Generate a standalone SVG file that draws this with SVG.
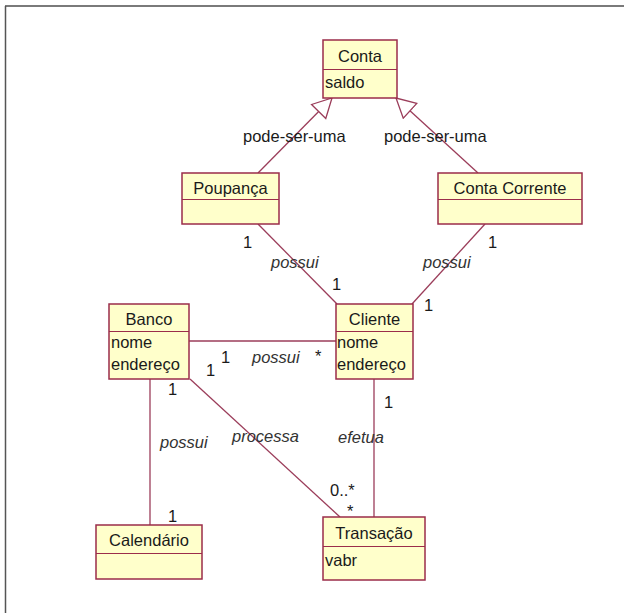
<svg xmlns="http://www.w3.org/2000/svg" width="624" height="613" viewBox="0 0 624 613">
<style>
.box{fill:#FFFFCB;stroke:#9B2D4A;stroke-width:1.5}
.div{stroke:#9B2D4A;stroke-width:1.2}
.t{font-family:"Liberation Sans",Arial,sans-serif;font-size:16.5px;fill:#1a1a1a}
.c{text-anchor:middle}
.i{font-style:italic;fill:#333}
.ln{stroke:#9B3D5A;stroke-width:1.3;fill:none}
</style>
<defs>
<marker id="gen" markerUnits="userSpaceOnUse" markerWidth="22" markerHeight="24" refX="20" refY="11" orient="auto">
<path d="M1,1 L20,11 L1,21 Z" fill="#fff" stroke="#9B3D5A" stroke-width="1.3"/>
</marker>
</defs>
<rect width="624" height="613" fill="#fff"/>
<g id="frame">
<line x1="5" y1="6" x2="624" y2="6" stroke="#7a7a7a" stroke-width="2"/>
<line x1="5.5" y1="6" x2="5.5" y2="613" stroke="#555" stroke-width="1.5"/>
</g>
<g id="connectors">
<line class="ln" x1="258" y1="173" x2="332" y2="98" marker-end="url(#gen)"/>
<line class="ln" x1="478" y1="173" x2="396" y2="98" marker-end="url(#gen)"/>
<line class="ln" x1="258" y1="224" x2="337" y2="304"/>
<line class="ln" x1="485" y1="224" x2="412" y2="304"/>
<line class="ln" x1="189" y1="341" x2="336" y2="341"/>
<line class="ln" x1="150" y1="379" x2="150" y2="525"/>
<line class="ln" x1="190" y1="379" x2="340" y2="517"/>
<line class="ln" x1="374" y1="379" x2="374" y2="517"/>
<text class="t" x="243" y="142">pode-ser-uma</text>
<text class="t" x="384" y="142">pode-ser-uma</text>
<text class="t" x="243" y="248">1</text>
<text class="t i" x="271" y="268">possui</text>
<text class="t" x="332" y="290">1</text>
<text class="t" x="488" y="248">1</text>
<text class="t i" x="423" y="268">possui</text>
<text class="t" x="424" y="311">1</text>
<text class="t" x="221" y="363">1</text>
<text class="t" x="206" y="376">1</text>
<text class="t i" x="252" y="363">possui</text>
<text class="t" x="315" y="362">*</text>
<text class="t" x="168" y="395">1</text>
<text class="t i" x="160" y="448">possui</text>
<text class="t" x="168" y="522">1</text>
<text class="t i" x="232" y="442">processa</text>
<text class="t" x="330" y="496">0..*</text>
<text class="t" x="347" y="517">*</text>
<text class="t" x="384" y="408">1</text>
<text class="t i" x="338" y="443">efetua</text>
</g>
<g id="Conta">
<rect class="box" x="323" y="40" width="74" height="58"/>
<line class="div" x1="323" y1="69.5" x2="397" y2="69.5"/>
<text class="t c" x="360" y="62">Conta</text>
<text class="t" x="325" y="88">saldo</text>
</g>
<g id="Poupanca">
<rect class="box" x="182" y="173" width="97" height="51"/>
<line class="div" x1="182" y1="199.5" x2="279" y2="199.5"/>
<text class="t c" x="230.5" y="194">Poupança</text>
</g>
<g id="ContaCorrente">
<rect class="box" x="438" y="173" width="144" height="51"/>
<line class="div" x1="438" y1="199.5" x2="582" y2="199.5"/>
<text class="t c" x="510" y="194">Conta Corrente</text>
</g>
<g id="Banco">
<rect class="box" x="109" y="304" width="80" height="75"/>
<line class="div" x1="109" y1="331.5" x2="189" y2="331.5"/>
<text class="t c" x="149" y="325">Banco</text>
<text class="t" x="111" y="348">nome</text>
<text class="t" x="111" y="370">endereço</text>
</g>
<g id="Cliente">
<rect class="box" x="336" y="304" width="77" height="75"/>
<line class="div" x1="336" y1="331.5" x2="413" y2="331.5"/>
<text class="t c" x="374.5" y="325">Cliente</text>
<text class="t" x="337" y="348">nome</text>
<text class="t" x="337" y="370">endereço</text>
</g>
<g id="Calendario">
<rect class="box" x="96" y="525" width="106" height="54"/>
<line class="div" x1="96" y1="553.5" x2="202" y2="553.5"/>
<text class="t c" x="149" y="546">Calendário</text>
</g>
<g id="Transacao">
<rect class="box" x="323" y="517" width="102" height="63"/>
<line class="div" x1="323" y1="546.5" x2="425" y2="546.5"/>
<text class="t c" x="374" y="539">Transação</text>
<text class="t" x="325" y="566">vabr</text>
</g>
</svg>
